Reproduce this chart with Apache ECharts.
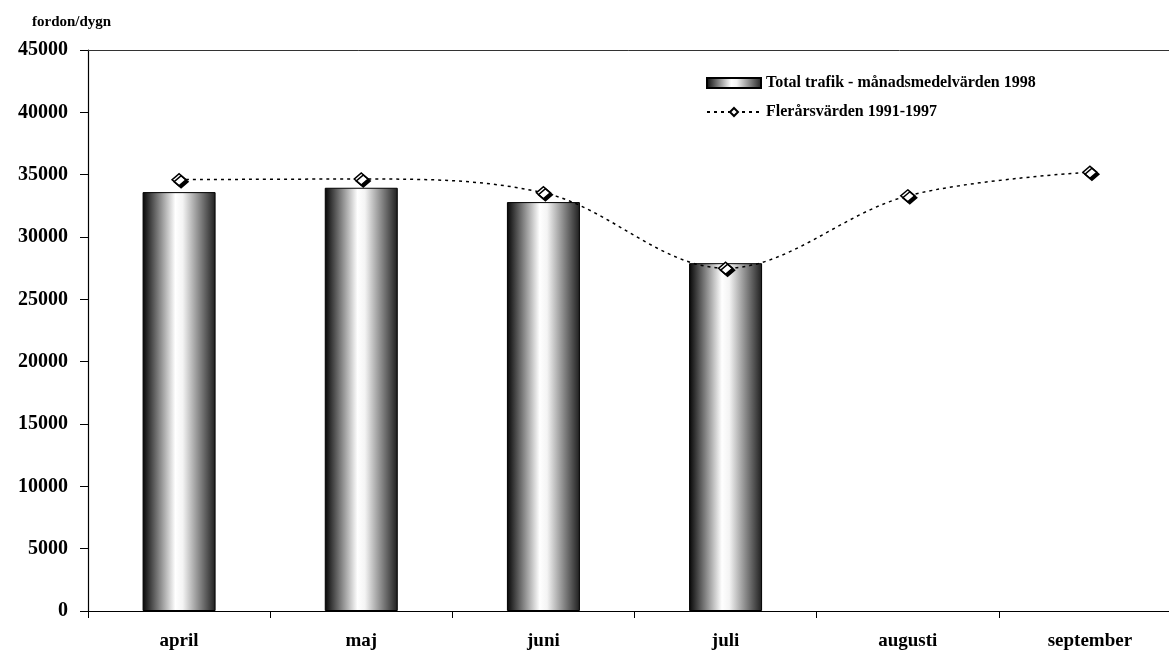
<!DOCTYPE html>
<html>
<head>
<meta charset="utf-8">
<script src="https://cdn.jsdelivr.net/npm/echarts@6/dist/echarts.min.js"></script>
<style>
  html, body { margin: 0; padding: 0; background: #fff; }
  #chart { width: 1169px; height: 652px; }
</style>
</head>
<body>
<div id="chart"></div>
<script>
// Months shown on the category axis
const months = ['april', 'maj', 'juni', 'juli', 'augusti', 'september'];
// Monthly mean traffic 1998 (vehicles per day)
const total1998 = [33600, 33950, 32800, 27900, null, null];
// Long-term values 1991-1997
const multiYear = [34600, 34650, 33550, 27500, 33300, 35200];
// Value axis range
const yMin = 0, yMax = 45000, yStep = 5000;

const serif = '"Liberation Serif", "Times New Roman", serif';

const barGradient = new echarts.graphic.LinearGradient(0, 0, 1, 0, [
  { offset: 0, color: '#050505' },
  { offset: 0.45, color: '#ffffff' },
  { offset: 0.55, color: '#f4f4f4' },
  { offset: 1, color: '#1e1e1e' }
]);

const chart = echarts.init(document.getElementById('chart'), null, { renderer: 'canvas' });

chart.setOption({
  animation: false,
  backgroundColor: '#fff',
  title: {
    text: 'fordon/dygn',
    left: 27, top: 10,
    textStyle: { fontFamily: serif, fontWeight: 'bold', fontSize: 15, color: '#000' }
  },
  legend: {
    orient: 'vertical',
    left: 701, top: 70,
    itemWidth: 54, itemHeight: 10,
    itemGap: 13,
    textStyle: { fontFamily: serif, fontWeight: 'bold', fontSize: 16, color: '#000' },
    data: [
      { name: 'Total trafik - månadsmedelvärden 1998', icon: 'rect' },
      { name: 'Flerårsvärden 1991-1997' }
    ]
  },
  grid: {
    left: 88, top: 50, right: -12, bottom: 41,
    containLabel: false,
    outerBoundsMode: 'none'
  },
  xAxis: [
    {
      type: 'category',
      data: months,
      position: 'bottom',
      axisLine: { lineStyle: { color: '#000', width: 1.2 } },
      axisTick: { show: true, length: 7, lineStyle: { color: '#000' } },
      axisLabel: { margin: 21, fontFamily: serif, fontWeight: 'bold', fontSize: 19, color: '#000' }
    },
    {
      type: 'category',
      data: months,
      position: 'top',
      axisLine: { lineStyle: { color: '#333', width: 1 } },
      axisTick: { show: false },
      axisLabel: { show: false }
    }
  ],
  yAxis: {
    type: 'value',
    min: yMin, max: yMax, interval: yStep,
    axisLine: { show: true, lineStyle: { color: '#000', width: 1.2 } },
    axisTick: { show: true, length: 8, lineStyle: { color: '#000' } },
    splitLine: { show: false },
    axisLabel: {
      margin: 20, fontFamily: serif, fontWeight: 'bold', fontSize: 20, color: '#000',
      formatter: (v) => String(v)
    }
  },
  series: [
    {
      name: 'Total trafik - månadsmedelvärden 1998',
      type: 'bar',
      data: total1998,
      barWidth: 73,
      itemStyle: { color: barGradient, borderColor: '#000', borderWidth: 1 }
    },
    {
      name: 'Flerårsvärden 1991-1997',
      type: 'line',
      data: multiYear,
      smooth: 0.35,
      symbol: 'diamond',
      symbolSize: [14, 12],
      lineStyle: { color: '#000', width: 1.5, type: [3, 4] },
      itemStyle: {
        color: '#fff', borderColor: '#000', borderWidth: 1.5,
        shadowColor: '#000', shadowOffsetX: 2, shadowOffsetY: 2, shadowBlur: 0
      },
      z: 3
    }
  ]
});
</script>
</body>
</html>
